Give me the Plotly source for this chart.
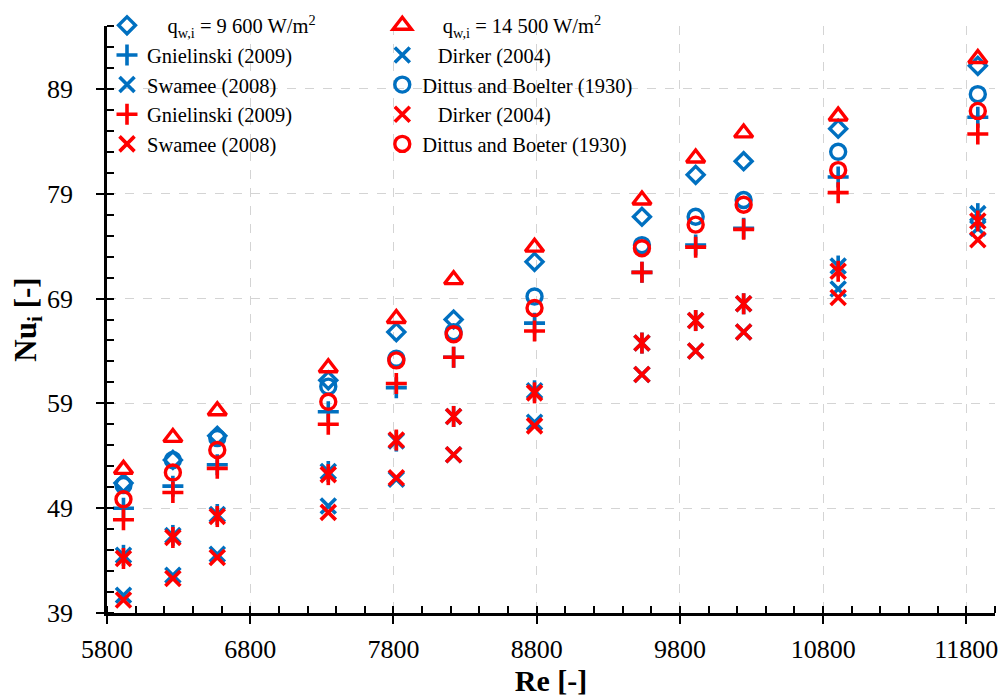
import plotly.graph_objects as go

# Reynolds numbers of the test points
re_vals = [5915, 6260, 6570, 7345, 7820, 8220, 8785, 9535, 9910, 10245, 10905, 11880]

# Measured Nusselt numbers
nu_exp_9600 = [51.4, 53.6, 55.9, 61.2, 65.8, 67.0, 72.5, 76.8, 80.8, 82.1, 85.2, 91.2]
nu_exp_14500 = [52.7, 55.75, 58.3, 62.4, 67.1, 70.8, 73.9, 78.4, 82.4, 84.8, 86.4, 91.9]

# Correlations, q = 9 600 W/m2
gniel_9600 = [49.0, 51.1, 53.15, 58.2, 60.5, 63.4, 66.65, 71.5, 74.1, 75.7, 80.6, 86.3]
dirker_9600 = [40.7, 42.6, 44.6, 49.2, 51.75, 54.1, 57.2, 61.75, 64.0, 65.8, 69.9, 75.7]
swamee_9600 = [44.5, 46.4, 48.4, 52.5, 55.4, 57.75, 60.2, 64.75, 66.9, 68.5, 72.1, 77.1]
dittus_9600 = [51.2, 53.6, 55.7, 60.6, 63.25, 65.8, 69.2, 74.1, 76.8, 78.4, 83.0, 88.5]

# Correlations, q = 14 500 W/m2
gniel_14500 = [47.9, 50.5, 52.8, 57.0, 60.9, 63.4, 65.9, 71.5, 73.9, 75.6, 79.1, 84.7]
dirker_14500 = [40.25, 42.3, 44.3, 48.6, 51.9, 54.1, 56.85, 61.75, 64.0, 65.8, 69.1, 74.6]
swamee_14500 = [44.2, 46.2, 48.2, 52.2, 55.5, 57.75, 60.0, 64.75, 66.9, 68.5, 71.6, 76.4]
dittus_14500 = [49.85, 52.4, 54.55, 59.15, 63.1, 65.6, 68.1, 73.8, 76.05, 77.95, 81.25, 86.9]

x_ticks = [5800, 6800, 7800, 8800, 9800, 10800, 11800]
y_ticks = [39, 49, 59, 69, 79, 89]

BLUE = "#0070C0"
RED = "#FF0000"
FONT = "Liberation Serif"
NBSP = "\u00a0"
LW = 3.4

fig = go.Figure()


def add(y, name, symbol, color, size, legend, rank, lw=LW, group=None, showlegend=True):
    fig.add_trace(go.Scatter(
        x=re_vals, y=y, mode="markers", name=name,
        legend=legend, legendrank=rank, legendgroup=group or name,
        showlegend=showlegend,
        marker=dict(symbol=symbol, size=size, color=color,
                    line=dict(color=color, width=lw)),
    ))


def add_star(y, name, color, legend, rank):
    # asterisk-style marker: an X with a vertical stroke through it
    add(y, name, "x-thin-open", color, 15, legend, rank, lw=3.6, group=name)
    add(y, name, "line-ns-open", color, 15, legend, rank, lw=3.6, group=name,
        showlegend=False)


# blue series (drawn first)
add(nu_exp_9600, NBSP * 4 + "q<sub>w,i</sub> = 9 600 W/m<sup>2</sup>",
    "diamond-open", BLUE, 13, "legend", 1)
add(gniel_9600, "Gnielinski (2009)", "cross-thin-open", BLUE, 15, "legend", 2, lw=3.6)
add(dirker_9600, NBSP * 3 + "Dirker (2004)", "x-thin-open", BLUE, 15, "legend2", 2, lw=3.6)
add_star(swamee_9600, "Swamee (2008)", BLUE, "legend", 3)
add(dittus_9600, "Dittus and Boelter (1930)", "circle-open", BLUE, 15, "legend2", 3)

# red series (drawn on top)
add(nu_exp_14500, NBSP * 4 + "q<sub>w,i</sub> = 14 500 W/m<sup>2</sup>",
    "triangle-up-open", RED, 16, "legend2", 1)
add(gniel_14500, "Gnielinski (2009) ", "cross-thin-open", RED, 15, "legend", 4, lw=3.6)
add(dirker_14500, NBSP * 3 + "Dirker (2004) ", "x-thin-open", RED, 15, "legend2", 4, lw=3.6)
add_star(swamee_14500, "Swamee (2008) ", RED, "legend", 5)
add(dittus_14500, "Dittus and Boeter (1930)", "circle-open", RED, 15, "legend2", 5)

legend_common = dict(
    yanchor="top", xanchor="left", y=1.035,
    bgcolor="rgba(0,0,0,0)", traceorder="normal", itemwidth=30,
    font=dict(family=FONT, size=20.5, color="black"),
)

axis_common = dict(
    showline=True, linecolor="black", linewidth=2.5,
    ticks="outside", ticklen=8, tickwidth=2, tickcolor="black",
    showgrid=True, gridcolor="#D4D4D4", griddash="dash", gridwidth=1,
    zeroline=False, automargin=False,
    tickfont=dict(family=FONT, size=26, color="black"),
)

fig.update_layout(
    width=1000, height=697,
    margin=dict(l=107, r=5, t=20, b=84),
    paper_bgcolor="white", plot_bgcolor="white",
    legend=dict(x=0.0, **legend_common),
    legend2=dict(x=0.31, **legend_common),
    xaxis=dict(
        range=[5800, 12000], tickvals=x_ticks,
        ticktext=[str(v) for v in x_ticks],
        minor=dict(dtick=200, tick0=5800, ticks="inside", ticklen=7,
                   tickwidth=1.5, tickcolor="black", showgrid=False),
        ticklabelstandoff=3,
        title=dict(text="<b>Re [-]</b>", font=dict(family=FONT, size=30, color="black"),
                   standoff=6),
        **axis_common,
    ),
    yaxis=dict(
        range=[39, 95], tickvals=y_ticks,
        ticktext=[str(v) for v in y_ticks],
        minor=dict(dtick=2, tick0=39, ticks="inside", ticklen=7,
                   tickwidth=1.5, tickcolor="black", showgrid=False),
        ticklabelstandoff=18,
        title=dict(text="<b>Nu<sub>i</sub> [-]</b>", font=dict(family=FONT, size=31, color="black"),
                   standoff=0),
        **axis_common,
    ),
)

fig.write_html("out.html")
